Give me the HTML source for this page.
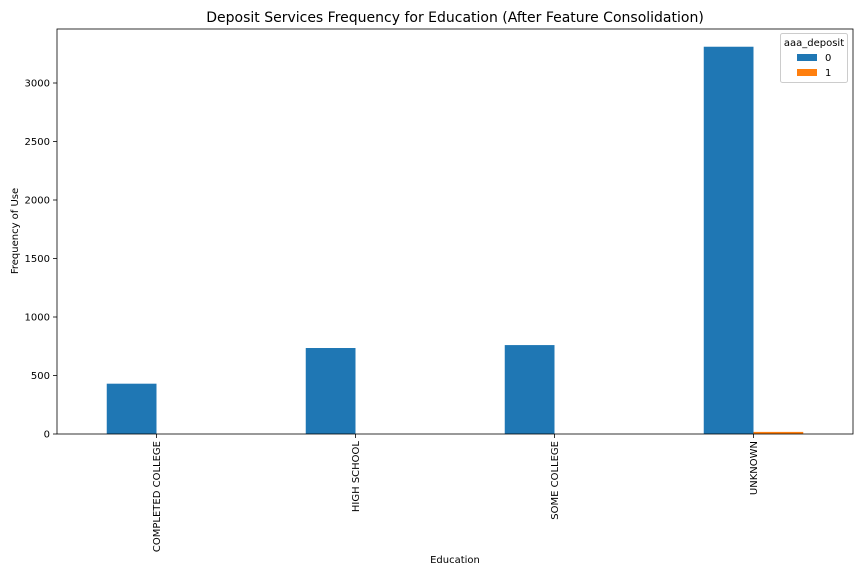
<!DOCTYPE html>
<html><head><meta charset="utf-8"><style>body{margin:0;background:#fff}svg{display:block;font-family:"DejaVu Sans","Liberation Sans",sans-serif}</style></head>
<body>
<svg id="c" width="864" height="576">
<text x="455" y="22" font-size="14" text-anchor="middle">Deposit Services Frequency for Education  (After Feature Consolidation)</text>
<g id="plot"></g>
<text x="455" y="563" font-size="10" text-anchor="middle">Education</text>
<text transform="translate(18,231) rotate(-90)" font-size="10" text-anchor="middle">Frequency of Use</text>
</svg>
<script>
const categories=["COMPLETED COLLEGE","HIGH SCHOOL","SOME COLLEGE","UNKNOWN"];
const series0=[430,735,760,3310];
const series1=[0,0,0,18];
const yTicks=[0,500,1000,1500,2000,2500,3000];
const L=57,R=853,T=29,B=434;
const x=v=>L+(v+0.5)/4*(R-L);
const y=v=>B-v/1000*117;
const g=document.getElementById('plot');
const NS="http://www.w3.org/2000/svg";
function mk(t,a){const e=document.createElementNS(NS,t);for(const k in a)e.setAttribute(k,a[k]);g.appendChild(e);return e;}
const bw=0.25/4*(R-L);
categories.forEach((c,i)=>{
 let r=mk('rect',{x:x(i)-bw,y:y(series0[i]),width:bw,height:B-y(series0[i]),fill:'#1f77b4'});
 
 
 r=mk('rect',{x:x(i),y:y(series1[i]),width:bw,height:B-y(series1[i]),fill:'#ff7f0e'});
 
 
 mk('line',{x1:x(i),x2:x(i),y1:B,y2:B+4,stroke:'#000','stroke-width':0.8});
 const t=mk('text',{transform:`translate(${x(i)+3.5},${B+7}) rotate(-90)`,'font-size':10,'text-anchor':'end'});
 t.textContent=c;
 
 
});
yTicks.forEach(v=>{
 mk('line',{x1:L-4,x2:L,y1:y(v),y2:y(v),stroke:'#000','stroke-width':0.8});
 const t=mk('text',{x:L-7,y:y(v)+3.5,'font-size':10,'text-anchor':'end'});
 t.textContent=v;
 
 
});
const f=mk('rect',{x:L,y:T,width:R-L,height:B-T,fill:'none',stroke:'#000','stroke-width':0.8});


const lg=mk('rect',{x:780.5,y:33.5,width:67,height:49,rx:2,fill:'#fff',stroke:'#ccc'});


let t=mk('text',{x:814,y:46,'font-size':10,'text-anchor':'middle'});t.textContent='aaa_deposit';


[['#1f77b4','0',57],['#ff7f0e','1',72]].forEach(([c,l,yy])=>{
 const r=mk('rect',{x:797,y:yy-3,width:20,height:7,fill:c});
 
 
 const tt=mk('text',{x:825,y:yy+4,'font-size':10});tt.textContent=l;
 
 
});
</script>
</body></html>
